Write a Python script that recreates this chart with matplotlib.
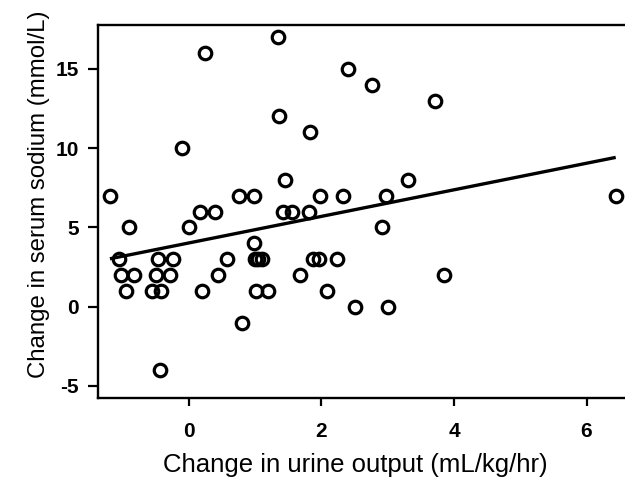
import matplotlib
matplotlib.use("Agg")
import matplotlib.pyplot as plt
import numpy as np

# Data
urine_change = [1.35, 0.24, 2.40, 2.76, 3.72, 1.36, 1.83, -0.11,
                1.45, 3.31,
                -1.19, 0.75, 0.99, 1.98, 2.33, 2.97, 6.44,
                0.17, 0.39, 1.42, 1.56, 1.81,
                -0.90, 0.00, 2.92,
                0.99,
                -1.05, -0.46, -0.24, 0.57, 1.00, 1.05, 1.10, 1.87, 1.97, 2.23,
                -1.03, -0.83, -0.50, -0.28, 0.44, 1.68, 3.85,
                -0.95, -0.56, -0.42, 0.20, 1.02, 1.20, 2.09,
                2.50, 3.00,
                0.80,
                -0.43]
sodium_change = [17, 16, 15, 14, 13, 12, 11, 10,
                 8, 8,
                 7, 7, 7, 7, 7, 7, 7,
                 6, 6, 6, 6, 6,
                 5, 5, 5,
                 4,
                 3, 3, 3, 3, 3, 3, 3, 3, 3, 3,
                 2, 2, 2, 2, 2, 2, 2,
                 1, 1, 1, 1, 1, 1, 1,
                 0, 0,
                 -1,
                 -4]
fit_intercept = 4.02
fit_slope = 0.838
x_ticks = [0, 2, 4, 6]
y_ticks = [-5, 0, 5, 10, 15]

plt.rcParams['font.family'] = ['Liberation Sans', 'DejaVu Sans']

fig = plt.figure(figsize=(6.25, 4.8), dpi=100)
ax = fig.add_axes([0.1568, 0.1708, 0.8432, 0.7772])

ax.plot(urine_change, sodium_change, linestyle='none', marker='o',
        markersize=9, markerfacecolor='none', markeredgecolor='black',
        markeredgewidth=2.3)

xs = np.array([min(urine_change), max(urine_change)])
ax.plot(xs, fit_intercept + fit_slope * xs, color='black', linewidth=2.4,
        solid_capstyle='butt')

ax.set_xlim(-1.37, 6.58)
ax.set_ylim(-5.76, 17.77)
ax.set_xticks(x_ticks)
ax.set_yticks(y_ticks)
ax.tick_params(axis='x', direction='out', length=6, width=1.6, pad=11,
               labelsize=15)
ax.tick_params(axis='y', direction='out', length=7, width=1.6, pad=7,
               labelsize=15)
ax.set_xticklabels([str(t) for t in x_ticks])
ax.set_yticklabels([str(t) for t in y_ticks])
for lab in ax.get_xticklabels() + ax.get_yticklabels():
    lab.set_fontweight('bold')
    lab.set_fontsize(15)

for side in ['left', 'bottom', 'top']:
    ax.spines[side].set_linewidth(1.7)
ax.spines['right'].set_visible(False)

ax.set_xlabel('Change in urine output (mL/kg/hr)', fontsize=18.5)
ax.set_ylabel('Change in serum sodium (mmol/L)', fontsize=17.3)
ax.xaxis.set_label_coords(0.488, -0.148)
ax.yaxis.set_label_coords(-0.092, 0.547)

fig.savefig('out.png', dpi=100)
